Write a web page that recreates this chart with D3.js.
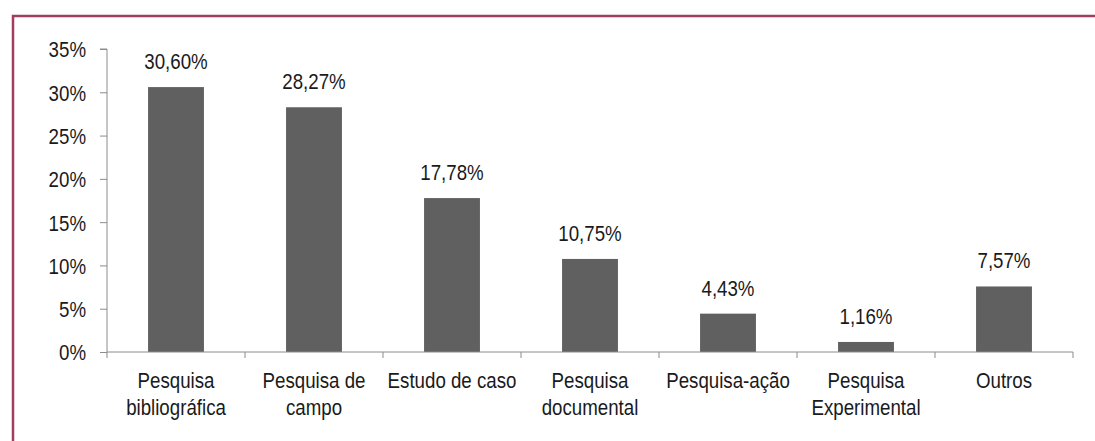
<!DOCTYPE html>
<html>
<head>
<meta charset="utf-8">
<script src="https://cdn.jsdelivr.net/npm/d3@7"></script>
<style>
  body { margin: 0; background: #fff; }
  text { font-family: "Liberation Sans", Arial, sans-serif; fill: #1a1a1a; }
</style>
</head>
<body>
<div id="chart"></div>
<script>
// data
var categories = [
  ['Pesquisa', 'bibliográfica'],
  ['Pesquisa de', 'campo'],
  ['Estudo de caso'],
  ['Pesquisa', 'documental'],
  ['Pesquisa-ação'],
  ['Pesquisa', 'Experimental'],
  ['Outros']
]
var values = [30.60, 28.27, 17.78, 10.75, 4.43, 1.16, 7.57]
var yTicks = [0, 5, 10, 15, 20, 25, 30, 35]

var width = 1095
var height = 441
var margin = { top: 49, left: 107, right: 22, bottom: 89 }
var squeeze = 0.85 // narrow look of the original font

var svg = d3.select('#chart')
  .append('svg')
  .attr('width', width)
  .attr('height', height)

// frame
svg.append('path')
  .attr('d', 'M13,441 L13,16 L1095,16')
  .attr('fill', 'none')
  .attr('stroke', '#a23d62')
  .attr('stroke-width', 2.5)

var keys = categories.map((d, i) => i)

var xPositionScale = d3.scaleBand()
  .domain(keys)
  .range([margin.left, width - margin.right])
  .padding(0)

var yPositionScale = d3.scaleLinear()
  .domain([0, 35])
  .range([height - margin.bottom, margin.top])

var barWidth = xPositionScale.bandwidth() * 0.405

// bars
svg.selectAll('.bar')
  .data(values)
  .enter()
  .append('rect')
  .attr('class', 'bar')
  .attr('x', (d, i) => xPositionScale(i) + (xPositionScale.bandwidth() - barWidth) / 2)
  .attr('y', d => yPositionScale(d))
  .attr('width', barWidth)
  .attr('height', d => yPositionScale(0) - yPositionScale(d))
  .attr('fill', '#606060')

// value labels
svg.selectAll('.value')
  .data(values)
  .enter()
  .append('text')
  .attr('class', 'value')
  .attr('transform', (d, i) => 'translate(' + (xPositionScale(i) + xPositionScale.bandwidth() / 2) + ',' + (yPositionScale(d) - 18) + ') scale(' + squeeze + ',1)')
  .attr('text-anchor', 'middle')
  .attr('font-size', 22)
  .text(d => d.toFixed(2).replace('.', ',') + '%')

// y axis
var yAxis = d3.axisLeft(yPositionScale)
  .tickValues(yTicks)
  .tickFormat(d => d + '%')
  .tickSize(7)
  .tickPadding(13)

var yG = svg.append('g')
  .attr('transform', 'translate(' + margin.left + ',0)')
  .call(yAxis)
yG.select('.domain').attr('stroke', '#8c8c8c').attr('d', 'M-7,' + yPositionScale(35) + 'H0V' + yPositionScale(0))
yG.selectAll('.tick line').attr('stroke', '#8c8c8c')
yG.selectAll('.tick text')
  .attr('font-size', 22)
  .attr('dy', '0.36em')
  .attr('x', -21 / squeeze)
  .attr('transform', 'scale(' + squeeze + ',1)')

// x axis
var xG = svg.append('g')
  .attr('transform', 'translate(0,' + yPositionScale(0) + ')')

xG.append('line')
  .attr('x1', xPositionScale.range()[0])
  .attr('x2', xPositionScale.range()[1])
  .attr('stroke', '#8c8c8c')

var edges = keys.map(k => xPositionScale(k)).concat([xPositionScale.range()[1]])
xG.selectAll('.xtick')
  .data(edges)
  .enter()
  .append('line')
  .attr('x1', d => d)
  .attr('x2', d => d)
  .attr('y1', 0)
  .attr('y2', 6)
  .attr('stroke', '#8c8c8c')

var labels = xG.selectAll('.xlabel')
  .data(categories)
  .enter()
  .append('text')
  .attr('class', 'xlabel')
  .attr('text-anchor', 'middle')
  .attr('font-size', 22)
  .attr('transform', (d, i) => 'translate(' + (xPositionScale(i) + xPositionScale.bandwidth() / 2) + ',36) scale(' + squeeze + ',1)')

labels.selectAll('tspan')
  .data(d => d)
  .enter()
  .append('tspan')
  .attr('x', 0)
  .attr('y', (d, i) => i * 27)
  .text(d => d)
</script>
</body>
</html>
